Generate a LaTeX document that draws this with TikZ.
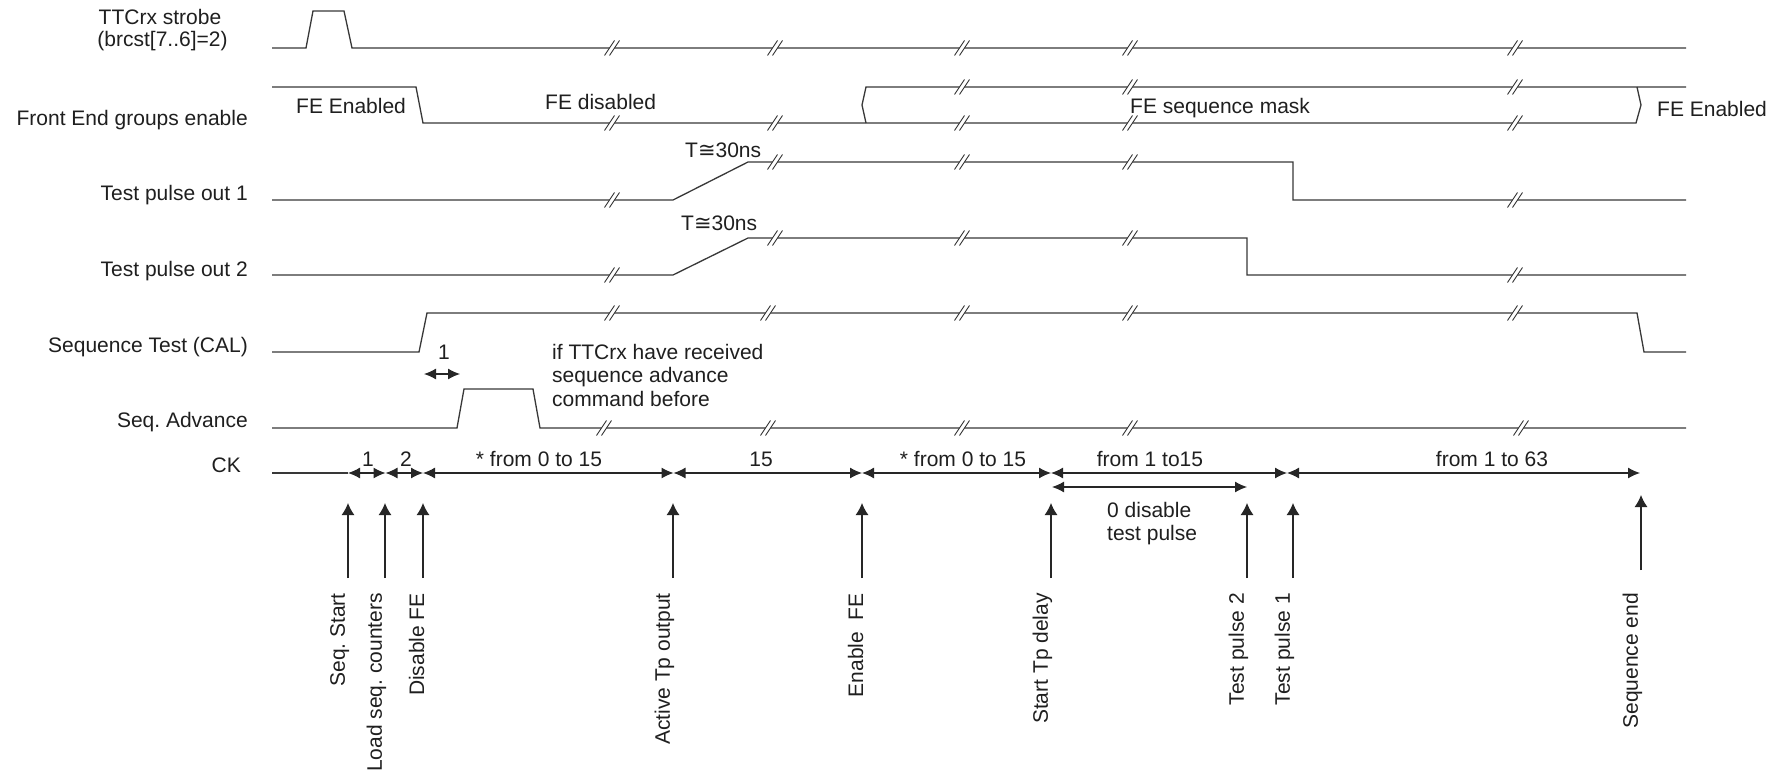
\documentclass[tikz,border=0pt]{standalone}
\usepackage{fontspec}
\setmainfont{Liberation Sans}
\newfontfamily\symfont{DejaVu Sans}
\usetikzlibrary{arrows.meta}

\begin{document}
\begin{tikzpicture}[x=1pt,y=-1pt,
  wave/.style={line width=1.3pt, draw=black!78, line join=miter},
  lbl/.style={font=\fontsize{21}{23.5}\selectfont\frenchspacing, text=black!88, inner sep=0pt},
  sig/.style={lbl, anchor=base east},
  ann/.style={lbl, anchor=base west},
  cklbl/.style={lbl, anchor=base},
  evt/.style={lbl, rotate=90, anchor=south east},
  dimarrow/.style={line width=1.2pt, draw=black!85, {Latex[length=12pt,width=11pt]}-{Latex[length=12pt,width=11pt]}},
  uparr/.style={line width=1.2pt, draw=black!85, -{Latex[length=12pt,width=13pt]}},
  brk/.pic={
    \fill[white] (-7.5,7.5) -- (2.5,-7.5) -- (7.5,-7.5) -- (-2.5,7.5) -- cycle;
    \draw[line width=0.9pt, black!80] (-7.5,7.5) -- (2.5,-7.5) (-2.5,7.5) -- (7.5,-7.5);
  }
]
\fill[white] (0,0) rectangle (1786,776);
\useasboundingbox (0,0) rectangle (1786,776);

% ---------------- signal names ----------------
\node[lbl, anchor=base] (ttc1) at (160,25) {TTCrx strobe};
\node[lbl, anchor=base] (ttc2) at (162.5,47) {(brcst[7..6]=2)};
\node[sig] (nfe)  at (248,125) {Front End groups enable};
\node[sig] (ntp1) at (248,200) {Test pulse out 1};
\node[sig] (ntp2) at (248,276) {Test pulse out 2};
\node[sig] (ncal) at (248,352) {Sequence Test (CAL)};
\node[sig] (nsa)  at (248,427) {Seq. Advance};
\node[sig] (nck)  at (241,472) {CK};

% ---------------- waveforms ----------------
% TTCrx strobe
\draw[wave] (272,48) -- (306,48) -- (313,11) -- (344,11) -- (352,48) -- (1686,48);
\foreach \x in {612,775,962,1130,1515} \pic at (\x,48) {brk};

% Front End groups enable
\draw[wave] (272,87) -- (416,87) -- (423,123) -- (1636,123) -- (1641,105) -- (1637,87);
\draw[wave] (1686,87) -- (866,87) -- (862,105) -- (866,123);
\foreach \x in {612,775,962,1130,1515} \pic at (\x,123) {brk};
\foreach \x in {962,1130,1515} \pic at (\x,87) {brk};
\node[ann] (feen)  at (296,113)  {FE Enabled};
\node[ann] (fedis) at (545,109)  {FE disabled};
\node[ann] (femsk) at (1130,113) {FE sequence mask};
\node[ann] (feen2) at (1657,116) {FE Enabled};

% Test pulse out 1
\draw[wave] (272,200) -- (673,200) -- (748,162) -- (1293,162) -- (1293,200) -- (1686,200);
\pic at (612,200) {brk};
\foreach \x in {775,962,1130} \pic at (\x,162) {brk};
\pic at (1515,200) {brk};
\node[ann] (t30a) at (685,157) {T{\symfont ≅}30ns};

% Test pulse out 2
\draw[wave] (272,275) -- (673,275) -- (748,238) -- (1247,238) -- (1247,275) -- (1686,275);
\pic at (612,275) {brk};
\foreach \x in {775,962,1130} \pic at (\x,238) {brk};
\pic at (1515,275) {brk};
\node[ann] (t30b) at (681,230) {T{\symfont ≅}30ns};

% Sequence Test (CAL)
\draw[wave] (272,352) -- (419,352) -- (427,313) -- (1637,313) -- (1644,352) -- (1686,352);
\foreach \x in {612,768,962,1130,1515} \pic at (\x,313) {brk};

% Seq. Advance
\draw[wave] (272,428) -- (457,428) -- (464,389) -- (533,389) -- (540,428) -- (1686,428);
\foreach \x in {604,768,962,1130,1521} \pic at (\x,428) {brk};

% "1" clock between CAL and Seq. Advance
\coordinate (oa) at (424,374);
\coordinate (ob) at (460,374);
\draw[dimarrow] (oa) -- (ob);
\node[cklbl] (one) at (444,359) {1};

\node[lbl, anchor=north west, align=left] (iftt) at (552,344)
  {if TTCrx have received\\sequence advance\\command before};

% ---------------- CK line ----------------
\coordinate (c0) at (348,473);
\coordinate (c1) at (385.5,473);
\coordinate (c2) at (423,473);
\coordinate (c3) at (673.5,473);
\coordinate (c4) at (862,473);
\coordinate (c5) at (1051,473);
\coordinate (c6) at (1287,473);
\coordinate (c7) at (1640,473);
\coordinate (ckst) at (272,473);
\draw[wave, line width=1.2pt] (ckst) -- (c0);
\draw[dimarrow] (c0) -- (c1);
\draw[dimarrow] (c1) -- (c2);
\draw[dimarrow] (c2) -- (c3);
\draw[dimarrow] (c3) -- (c4);
\draw[dimarrow] (c4) -- (c5);
\draw[dimarrow] (c5) -- (c6);
\draw[dimarrow] (c6) -- (c7);
\node[cklbl] (k1) at (368,466) {1};
\node[cklbl] (k2) at (406,466) {2};
\node[cklbl] (k3) at (539,466) {* from 0 to 15};
\node[cklbl] (k4) at (761,466) {15};
\node[cklbl] (k5) at (963,466) {* from 0 to 15};
\node[cklbl] (k6) at (1150,466) {from 1 to15};
\node[cklbl] (k7) at (1492,466) {from 1 to 63};

\coordinate (d0) at (1052,487);
\coordinate (d1) at (1247,487);
\draw[dimarrow] (d0) -- (d1);
\node[lbl, anchor=north west, align=left] (dis) at (1107,502) {0 disable\\test pulse};

% ---------------- events ----------------
\foreach \n/\x/\t in {e1/348/{Seq. Start}, e2/385/{Load seq. counters}, e3/423/{Disable FE},
                      e4/673/{Active Tp output}, e5/862/{Enable~~FE}, e6/1051/{Start Tp delay},
                      e7/1247/{Test pulse 2}, e8/1293/{Test pulse 1}} {
  \coordinate (B\n) at (\x,578);
  \coordinate (T\n) at (\x,503);
  \draw[uparr] (B\n) -- (T\n);
  \node[evt] (L\n) at ([xshift=1.5pt]\x,593) {\t};
}
\coordinate (Be9) at (1641,570);
\coordinate (Te9) at (1641,495);
\draw[uparr] (Be9) -- (Te9);
\node[evt] (Le9) at ([xshift=1.5pt]1641,593) {Sequence end};

\end{tikzpicture}
\end{document}
